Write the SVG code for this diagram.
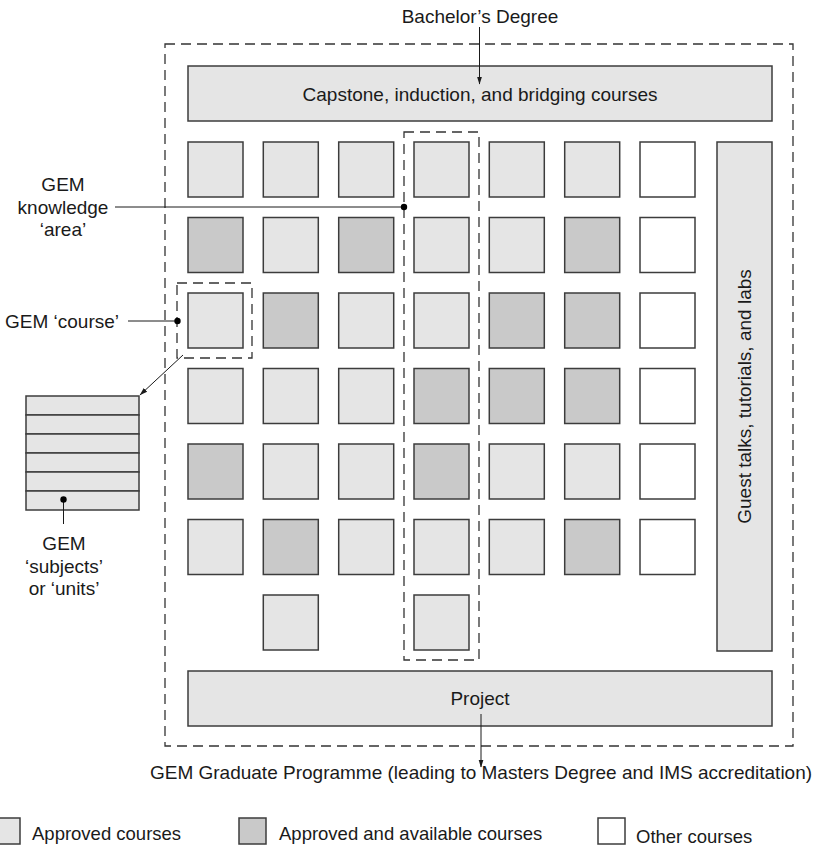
<svg xmlns="http://www.w3.org/2000/svg" width="820" height="847" viewBox="0 0 820 847">
<style>
text{font-family:"Liberation Sans",Arial,sans-serif;font-size:19px;fill:#1a1a1a}
.lg{font-size:18.5px}
.m{text-anchor:middle}
.l{fill:#e5e5e5;stroke:#3c3c3c;stroke-width:1.5}
.d{fill:#c9c9c9;stroke:#3c3c3c;stroke-width:1.5}
.w{fill:#ffffff;stroke:#3c3c3c;stroke-width:1.5}
.dash{fill:none;stroke:#333;stroke-width:1.3;stroke-dasharray:10 6}
.ln{fill:none;stroke:#1a1a1a;stroke-width:1}
.dot{fill:#000}
</style>
<defs>
<marker id="ah" viewBox="0 0 8 8" refX="7.5" refY="4" markerWidth="8" markerHeight="8" markerUnits="userSpaceOnUse" orient="auto">
<path d="M0,1.5 L8,4 L0,6.5 Z" fill="#1a1a1a"/>
</marker>
</defs>
<rect width="820" height="847" fill="#fff"/>

<g id="programme"><rect class="dash" x="165" y="44" width="628" height="702"/></g>

<g id="capstone"><rect class="l" x="188" y="66" width="584" height="55"/><text class="m" x="480" y="100.5">Capstone, induction, and bridging courses</text></g>

<g id="guest"><rect class="l" x="717" y="142" width="55" height="509"/><text class="m" transform="translate(751,396.5) rotate(-90)">Guest talks, tutorials, and labs</text></g>

<g id="project"><rect class="l" x="188" y="671" width="584" height="55"/><text class="m" x="480" y="705">Project</text></g>

<g id="area"><rect class="dash" x="404" y="132" width="75" height="528"/></g>
<g id="course"><rect class="dash" x="177" y="283" width="75" height="75"/></g>

<g id="grid">
<rect class="l" x="188" y="142" width="55" height="55"/>
<rect class="l" x="263.3" y="142" width="55" height="55"/>
<rect class="l" x="338.7" y="142" width="55" height="55"/>
<rect class="l" x="414" y="142" width="55" height="55"/>
<rect class="l" x="489.3" y="142" width="55" height="55"/>
<rect class="l" x="564.7" y="142" width="55" height="55"/>
<rect class="w" x="640" y="142" width="55" height="55"/>

<rect class="d" x="188" y="217.5" width="55" height="55"/>
<rect class="l" x="263.3" y="217.5" width="55" height="55"/>
<rect class="d" x="338.7" y="217.5" width="55" height="55"/>
<rect class="l" x="414" y="217.5" width="55" height="55"/>
<rect class="l" x="489.3" y="217.5" width="55" height="55"/>
<rect class="d" x="564.7" y="217.5" width="55" height="55"/>
<rect class="w" x="640" y="217.5" width="55" height="55"/>

<rect class="l" x="188" y="293" width="55" height="55"/>
<rect class="d" x="263.3" y="293" width="55" height="55"/>
<rect class="l" x="338.7" y="293" width="55" height="55"/>
<rect class="l" x="414" y="293" width="55" height="55"/>
<rect class="d" x="489.3" y="293" width="55" height="55"/>
<rect class="d" x="564.7" y="293" width="55" height="55"/>
<rect class="w" x="640" y="293" width="55" height="55"/>

<rect class="l" x="188" y="368.5" width="55" height="55"/>
<rect class="l" x="263.3" y="368.5" width="55" height="55"/>
<rect class="l" x="338.7" y="368.5" width="55" height="55"/>
<rect class="d" x="414" y="368.5" width="55" height="55"/>
<rect class="d" x="489.3" y="368.5" width="55" height="55"/>
<rect class="d" x="564.7" y="368.5" width="55" height="55"/>
<rect class="w" x="640" y="368.5" width="55" height="55"/>

<rect class="d" x="188" y="444" width="55" height="55"/>
<rect class="l" x="263.3" y="444" width="55" height="55"/>
<rect class="l" x="338.7" y="444" width="55" height="55"/>
<rect class="d" x="414" y="444" width="55" height="55"/>
<rect class="l" x="489.3" y="444" width="55" height="55"/>
<rect class="l" x="564.7" y="444" width="55" height="55"/>
<rect class="w" x="640" y="444" width="55" height="55"/>

<rect class="l" x="188" y="519.5" width="55" height="55"/>
<rect class="d" x="263.3" y="519.5" width="55" height="55"/>
<rect class="l" x="338.7" y="519.5" width="55" height="55"/>
<rect class="l" x="414" y="519.5" width="55" height="55"/>
<rect class="l" x="489.3" y="519.5" width="55" height="55"/>
<rect class="d" x="564.7" y="519.5" width="55" height="55"/>
<rect class="w" x="640" y="519.5" width="55" height="55"/>

<rect class="l" x="263.3" y="595" width="55" height="55"/>
<rect class="l" x="414" y="595" width="55" height="55"/>
</g>

<g id="subjects">
<rect class="l" x="26" y="396" width="113" height="19"/>
<rect class="l" x="26" y="415" width="113" height="19"/>
<rect class="l" x="26" y="434" width="113" height="19"/>
<rect class="l" x="26" y="453" width="113" height="19"/>
<rect class="l" x="26" y="472" width="113" height="19"/>
<rect class="l" x="26" y="491" width="113" height="19"/>
</g>

<g id="labels">
<text class="m" x="480" y="23">Bachelor’s Degree</text>
<text class="m" x="481" y="779">GEM Graduate Programme (leading to Masters Degree and IMS accreditation)</text>
<text class="m" x="63" y="191">GEM</text>
<text class="m" x="63" y="213.5">knowledge</text>
<text class="m" x="63" y="236">‘area’</text>
<text class="m" x="62" y="328">GEM ‘course’</text>
<text class="m" x="64" y="550">GEM</text>
<text class="m" x="64" y="572.5">‘subjects’</text>
<text class="m" x="64" y="595">or ‘units’</text>
</g>

<g id="connectors">
<line class="ln" x1="479.5" y1="27" x2="479.5" y2="84" marker-end="url(#ah)"/>
<line class="ln" x1="481" y1="714" x2="481" y2="767" marker-end="url(#ah)"/>
<line class="ln" x1="183" y1="355" x2="140" y2="395" marker-end="url(#ah)"/>
<line class="ln" x1="115" y1="207" x2="404" y2="207"/>
<circle class="dot" cx="404" cy="207" r="3.2"/>
<line class="ln" x1="128" y1="321" x2="177.5" y2="321"/>
<circle class="dot" cx="177.5" cy="321" r="3.2"/>
<line class="ln" x1="63.5" y1="499.5" x2="63.5" y2="524"/>
<circle class="dot" cx="63.5" cy="499.5" r="3.2"/>
</g>

<g id="legend">
<rect class="l" x="-7" y="818" width="27" height="26"/>
<text class="lg" x="32" y="840">Approved courses</text>
<rect class="d" x="239" y="818" width="27" height="26"/>
<text class="lg" x="279" y="840">Approved and available courses</text>
<rect class="w" x="598" y="818" width="27" height="26"/>
<text class="lg" x="636" y="843">Other courses</text>
</g>
</svg>
